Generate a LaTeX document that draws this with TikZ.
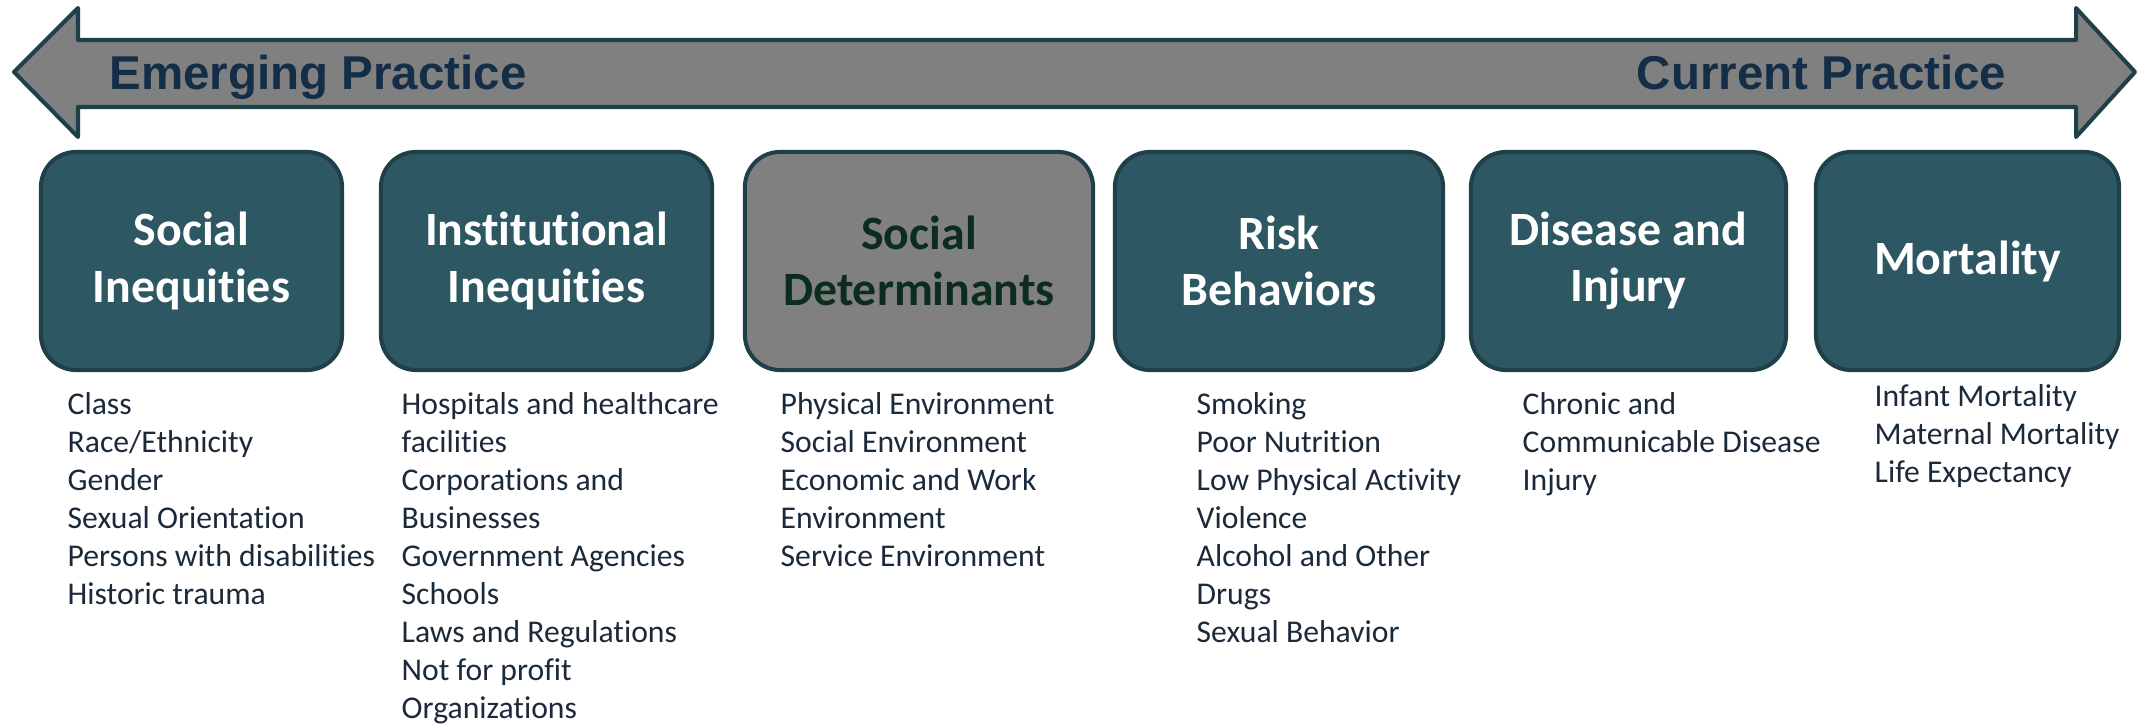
\documentclass[tikz,border=0pt]{standalone}
\usepackage{fontspec}
\setmainfont{Carlito}[Ligatures=NoCommon]
\newfontfamily\arrowfont{Liberation Sans}
\usepackage{tikz}
\definecolor{boxfill}{RGB}{45, 87, 99}
\definecolor{boxline}{RGB}{31, 64, 72}
\definecolor{shaft}{RGB}{128, 128, 128}
\definecolor{navy}{RGB}{21, 46, 72}
\definecolor{deepgreen}{RGB}{12, 45, 30}
\definecolor{listtext}{RGB}{27, 42, 58}

\tikzset{
  stage/.style={draw=boxline, line width=1.15pt, fill=boxfill, rounded corners=10pt,
    text=white, align=center, minimum height=2.18cm, inner sep=0pt,
    font=\fontsize{13.6}{16}\selectfont\bfseries},
  items/.style={anchor=north west, align=left, inner sep=0pt, text=listtext,
    font=\fontsize{9}{10.8}\selectfont},
  practice/.style={inner sep=0pt, text=navy, font=\arrowfont\fontsize{13.5}{15}\selectfont\bfseries}
}

\begin{document}
\begin{tikzpicture}[x=0.01cm, y=-0.01cm]

  \useasboundingbox (0, 0) rectangle (2139, 725);

  % double arrow
  \draw [fill=shaft, draw=boxline, line width=1.15pt, line join=round]
    (14, 72) -- (78, 8) -- (78, 40) -- (2076, 40) -- (2076, 8) -- (2135, 72)
    -- (2076, 137) -- (2076, 107) -- (78, 107) -- (78, 137) -- cycle;

  \node [practice, anchor=base west] (emerging) at (109, 90) {Emerging Practice};
  \node [practice, anchor=base east] (current) at (2007, 90) {Current Practice};

  % stages
  \node [stage, minimum width=3.01cm] (social) at (191.5, 261) {Social\\Inequities};
  \node [stage, minimum width=3.31cm] (institutional) at (546.5, 261) {Institutional\\Inequities};
  \node [stage, minimum width=3.48cm, fill=shaft, text=deepgreen] (determinants) at (919, 261) {Social\\Determinants};
  \node [stage, minimum width=3.28cm] (risk) at (1279, 261) {Risk\\Behaviors};
  \node [stage, minimum width=3.15cm] (disease) at (1628.5, 261) {Disease and\\Injury};
  \node [stage, minimum width=3.03cm] (mortality) at (1967.5, 261) {Mortality};

  % lists
  \node [items] (socialitems) at (67, 392) {Class\\Race/Ethnicity\\Gender\\Sexual Orientation\\Persons with disabilities\\Historic trauma};
  \node [items] (institutionalitems) at (401, 392) {Hospitals and healthcare\\facilities\\Corporations and\\Businesses\\Government Agencies\\Schools\\Laws and Regulations\\Not for profit\\Organizations};
  \node [items] (determinantsitems) at (780, 392) {Physical Environment\\Social Environment\\Economic and Work\\Environment\\Service Environment};
  \node [items] (riskitems) at (1196, 392) {Smoking\\Poor Nutrition\\Low Physical Activity\\Violence\\Alcohol and Other\\Drugs\\Sexual Behavior};
  \node [items] (diseaseitems) at (1522, 392) {Chronic and\\Communicable Disease\\Injury};
  \node [items] (mortalityitems) at (1874, 384) {Infant Mortality\\Maternal Mortality\\Life Expectancy};

\end{tikzpicture}
\end{document}
